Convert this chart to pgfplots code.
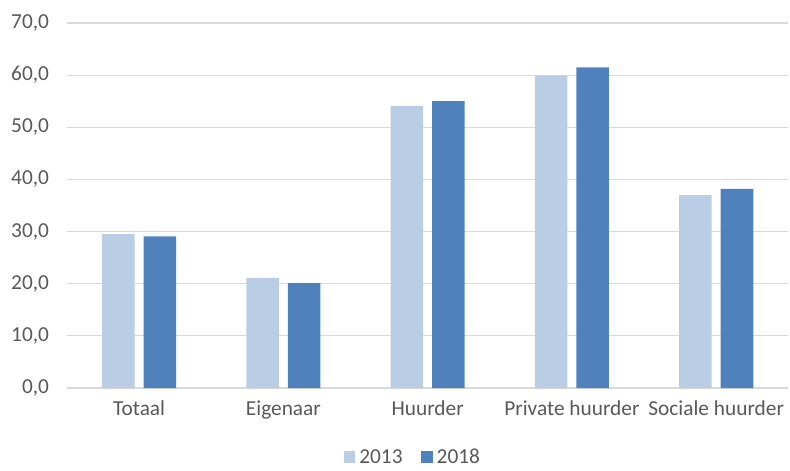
\documentclass[border=0pt]{standalone}
\usepackage{fontspec}
\setmainfont{Carlito}
\usepackage{pgfplots}
\pgfplotsset{compat=1.18}
\definecolor{lichtblauw}{HTML}{B9CDE5}
\definecolor{donkerblauw}{HTML}{4F81BD}
\definecolor{tekstgrijs}{HTML}{595959}
\definecolor{rastergrijs}{HTML}{D9D9D9}

\begin{document}
\begin{tikzpicture}
\begin{axis}[
    name=ax,
    scale only axis,
    width=541pt, height=273.75pt,
    ymin=0, ymax=70, ytick={0,10,...,70},
    xmin=-0.5, xmax=4.5,
    xtick=data,
    xticklabels={Totaal, Eigenaar, Huurder, Private huurder, Sociale huurder},
    ymajorgrids, grid style={rastergrijs, line width=0.9pt},
    axis x line*=bottom, axis y line*=left,
    x axis line style={rastergrijs, line width=0.9pt},
    y axis line style={draw=none},
    major tick length=0pt,
    tick label style={font=\fontsize{16}{19}\selectfont, text=tekstgrijs},
    /pgf/number format/.cd, fixed, fixed zerofill, precision=1, use comma, assume math mode=true,
    /pgfplots/.cd,
    yticklabel style={xshift=-10pt},
    xticklabel style={yshift=-6pt},
    ybar, bar width=24.4pt,
    legend style={at={(axis description cs:0.48,-0.19)}, anchor=center,
        draw=none, font=\fontsize{16}{19}\selectfont, text=tekstgrijs,
        legend columns=2,
        /tikz/every odd column/.append style={column sep=1pt},
        /tikz/every even column/.append style={column sep=12pt}},
    legend image code/.code={\fill[#1] (0pt,-4.5pt) rectangle (8.6pt,4.5pt);},
]
  \addplot[fill=lichtblauw, draw=none, bar shift=-15.6pt] coordinates
    {(0,29.5) (1,21.1) (2,54.1) (3,59.9) (4,37.0)};
  \addplot[fill=donkerblauw, draw=none, bar shift=15.6pt] coordinates
    {(0,29.1) (1,20.1) (2,55.0) (3,61.5) (4,38.2)};
  \legend{2013, 2018}
\end{axis}
\path (ax.south west) ++(-50.25pt,-60pt) rectangle ++(592.5pt,351pt);
\end{tikzpicture}
\end{document}
